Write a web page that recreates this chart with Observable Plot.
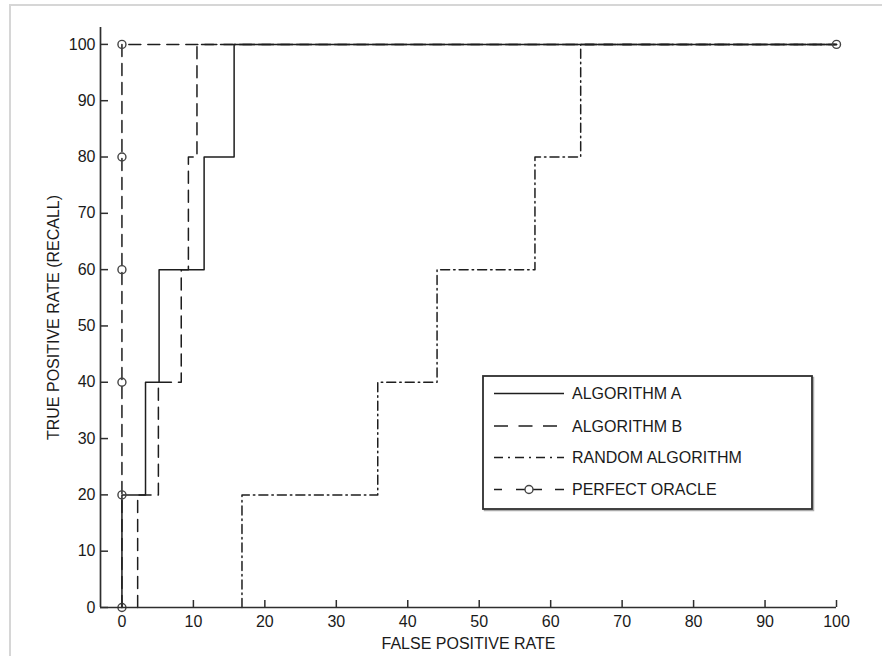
<!DOCTYPE html>
<html><head><meta charset="utf-8">
<script src="https://cdn.jsdelivr.net/npm/d3@7"></script>
<script src="https://cdn.jsdelivr.net/npm/@observablehq/plot@0.6"></script>
<style>
body{margin:0;background:#fff;}
#wrap{position:relative;width:882px;height:656px;overflow:hidden;font-family:"Liberation Sans",Arial,sans-serif;}
#frame{position:absolute;left:9px;top:4px;width:900px;height:700px;border-left:2px solid #d6d6d6;border-top:2px solid #d6d6d6;pointer-events:none;}
#legend{position:absolute;left:482px;top:375px;}
</style></head>
<body><div id="wrap"><div id="frame"></div></div>
<script>
// ---- data ----
const xTicks = [0,10,20,30,40,50,60,70,80,90,100];
const yTicks = [0,10,20,30,40,50,60,70,80,90,100];
const xLabel = "FALSE POSITIVE RATE";
const yLabel = "TRUE POSITIVE RATE (RECALL)";
const seriesNames = ["ALGORITHM A","ALGORITHM B","RANDOM ALGORITHM","PERFECT ORACLE"];
// ROC corner points (step-after: horizontal, then vertical)
const fprA = [0, 0, 3.3, 5.2, 11.5, 15.7, 100];
const tprA = [0, 20, 40, 60, 80, 100, 100];
const fprB = [2.2, 2.2, 5.1, 8.3, 9.3, 10.5, 100];
const tprB = [0, 20, 40, 60, 80, 100, 100];
const fprR = [16.8, 16.8, 35.8, 44.1, 57.8, 64.2, 100];
const tprR = [0, 20, 40, 60, 80, 100, 100];
const fprO = [0, 0, 0, 0, 0, 0, 100];
const tprO = [0, 20, 40, 60, 80, 100, 100];

const toRows = (xs, ys) => xs.map((x, i) => ({x, y: ys[i]}));
const A = toRows(fprA, tprA), B = toRows(fprB, tprB), R = toRows(fprR, tprR), O = toRows(fprO, tprO);

const W = 882, H = 656;
const mL = 100, mR = 46, mT = 27, mB = 49;
const fw = W - mL - mR, fh = H - mT - mB;
const xDom = [-3, 100], yDom = [0, 103];
const ink = "#1e1e1e", axisInk = "#2e2e2e", txt = "#1a1a1a";
const dashB = "12,7", dashR = "9,4,1.5,4", dashO = "12,7";

const chart = Plot.plot({
  width: W, height: H,
  marginLeft: mL, marginRight: mR, marginTop: mT, marginBottom: mB,
  style: {fontFamily: '"Liberation Sans", Arial, sans-serif', fontSize: "16px", background: "transparent"},
  x: {domain: xDom},
  y: {domain: yDom},
  marks: [
    Plot.line(R, {x: "x", y: "y", curve: "step-after", stroke: ink, strokeWidth: 1.5, strokeDasharray: dashR}),
    Plot.line(B, {x: "x", y: "y", curve: "step-after", stroke: ink, strokeWidth: 1.5, strokeDasharray: dashB}),
    Plot.line(O, {x: "x", y: "y", stroke: ink, strokeWidth: 1.5, strokeDasharray: dashO}),
    Plot.line(A, {x: "x", y: "y", curve: "step-after", stroke: ink, strokeWidth: 1.5}),
    Plot.dot(O, {x: "x", y: "y", r: 4, stroke: "#444", strokeWidth: 1.4, fill: "none"}),
    Plot.ruleY([yDom[0]], {stroke: axisInk, strokeWidth: 1.7}),
    Plot.ruleX([xDom[0]], {stroke: axisInk, strokeWidth: 1.7}),
    Plot.tickX(xTicks, {x: d => d, insetTop: fh - 7, stroke: axisInk, strokeWidth: 1.5}),
    Plot.tickY(yTicks, {y: d => d, insetRight: fw - 8, stroke: axisInk, strokeWidth: 1.5}),
    Plot.axisX(xTicks, {tickSize: 0, tickPadding: 8, fontSize: 16, fill: txt, label: null}),
    Plot.axisY(yTicks, {tickSize: 0, tickPadding: 5, fontSize: 16, fill: txt, label: null}),
    Plot.text([xLabel], {text: d => d, frameAnchor: "bottom", dy: 36, fontSize: 16, fill: txt, textAnchor: "middle", lineAnchor: "middle"}),
    Plot.text([yLabel], {text: d => d, frameAnchor: "left", dx: -47, rotate: -90, fontSize: 16, fill: txt, textAnchor: "middle", lineAnchor: "middle"})
  ]
});
document.getElementById("wrap").prepend(chart);

// ---- legend (HTML overlay with small SVG) ----
const lg = d3.select("#wrap").append("svg").attr("id", "legend").attr("width", 334).attr("height", 138);
lg.append("rect").attr("x", 2.5).attr("y", 2.5).attr("width", 329).attr("height", 133).attr("fill", "none").attr("stroke", "#aaa").attr("stroke-width", 1.5);
lg.append("rect").attr("x", 1).attr("y", 1).attr("width", 329).attr("height", 133).attr("fill", "#fff").attr("stroke", "#2e2e2e").attr("stroke-width", 1.8);
const rowY = [18.5, 51, 82.5, 114.5];
const sx0 = 12, sx1 = 82, tx = 90;
const legDash = ["none", "14,10.5", "9,5,2,5", null];
seriesNames.forEach((name, i) => {
  const y = rowY[i];
  if (i < 3) {
    lg.append("line").attr("x1", sx0).attr("x2", sx1).attr("y1", y).attr("y2", y)
      .attr("stroke", ink).attr("stroke-width", 1.5).attr("stroke-dasharray", legDash[i]);
  } else {
    [[sx0, sx0 + 8], [sx0 + 22, sx0 + 48], [sx0 + 61, sx1]].forEach(([a, b]) =>
      lg.append("line").attr("x1", a).attr("x2", b).attr("y1", y).attr("y2", y).attr("stroke", ink).attr("stroke-width", 1.5));
    lg.append("circle").attr("cx", (sx0 + sx1) / 2).attr("cy", y).attr("r", 4).attr("fill", "#fff").attr("stroke", "#444").attr("stroke-width", 1.4);
  }
  lg.append("text").attr("x", tx).attr("y", y).attr("dy", "0.36em").attr("fill", txt)
    .style("font", '16px "Liberation Sans", Arial, sans-serif').text(name);
});
</script>
</body></html>
